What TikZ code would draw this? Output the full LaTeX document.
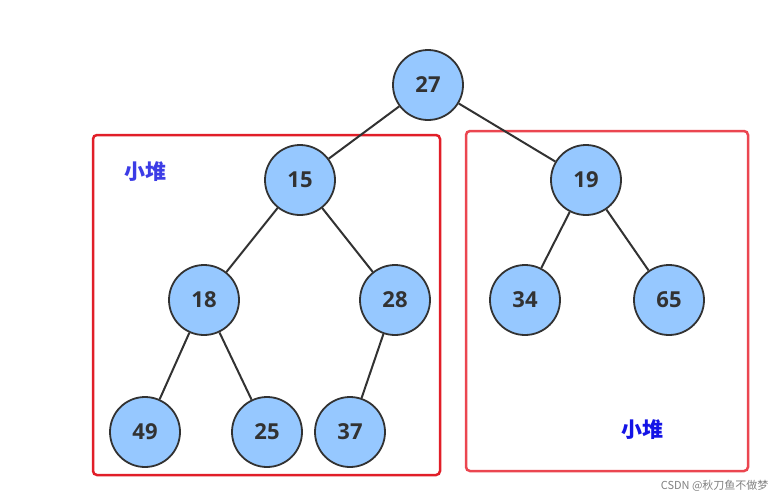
\documentclass[tikz,border=0pt]{standalone}
\usepackage{fontspec}
\setmainfont{Open Sans}
\newfontfamily\cjk{Noto Sans CJK SC}
\begin{document}
\begin{tikzpicture}[x=1pt,y=-1pt]
\definecolor{nodefill}{RGB}{150,200,255}
\definecolor{edgec}{RGB}{50,50,50}
\definecolor{boxred}{RGB}{225,30,40}
\definecolor{boxred2}{RGB}{235,70,80}
\tikzset{hn/.style={circle,draw=edgec,line width=1.8pt,fill=nodefill,minimum size=70pt,inner sep=0pt,font=\fontsize{22}{24}\selectfont\bfseries,text=edgec},
ed/.style={draw=edgec,line width=2pt},
lbl/.style={font=\cjk\fontsize{21}{24}\selectfont\bfseries}}
\useasboundingbox (0,0) rectangle (779,499);
\draw[boxred,line width=2.5pt,rounded corners=4pt] (93,135) rectangle (440,475);
\draw[boxred2,line width=2.5pt,rounded corners=4pt] (466,131) rectangle (748,471);
\node[hn] (n27) at (428,85) {27};
\node[hn] (n15) at (300,180) {15};
\node[hn] (n19) at (586,180) {19};
\node[hn] (n18) at (204,300) {18};
\node[hn] (n28) at (395,300) {28};
\node[hn] (n34) at (525,300) {34};
\node[hn] (n65) at (669,300) {65};
\node[hn] (n49) at (145,432) {49};
\node[hn] (n25) at (267,432) {25};
\node[hn] (n37) at (350,432) {37};
\foreach \a/\b in {n27/n15,n27/n19,n15/n18,n15/n28,n19/n34,n19/n65,n18/n49,n18/n25,n28/n37}
  \draw[ed] (\a) -- (\b);
\node[lbl,text={rgb,255:red,60;green,60;blue,230}] (l1) at (145,172) {小堆};
\node[lbl,text={rgb,255:red,20;green,20;blue,230}] (l2) at (642,430) {小堆};
\node[font=\cjk\fontsize{11}{12}\selectfont,text=gray,anchor=east] (wm) at (772,486) {CSDN @秋刀鱼不做梦};
\end{tikzpicture}
\end{document}
